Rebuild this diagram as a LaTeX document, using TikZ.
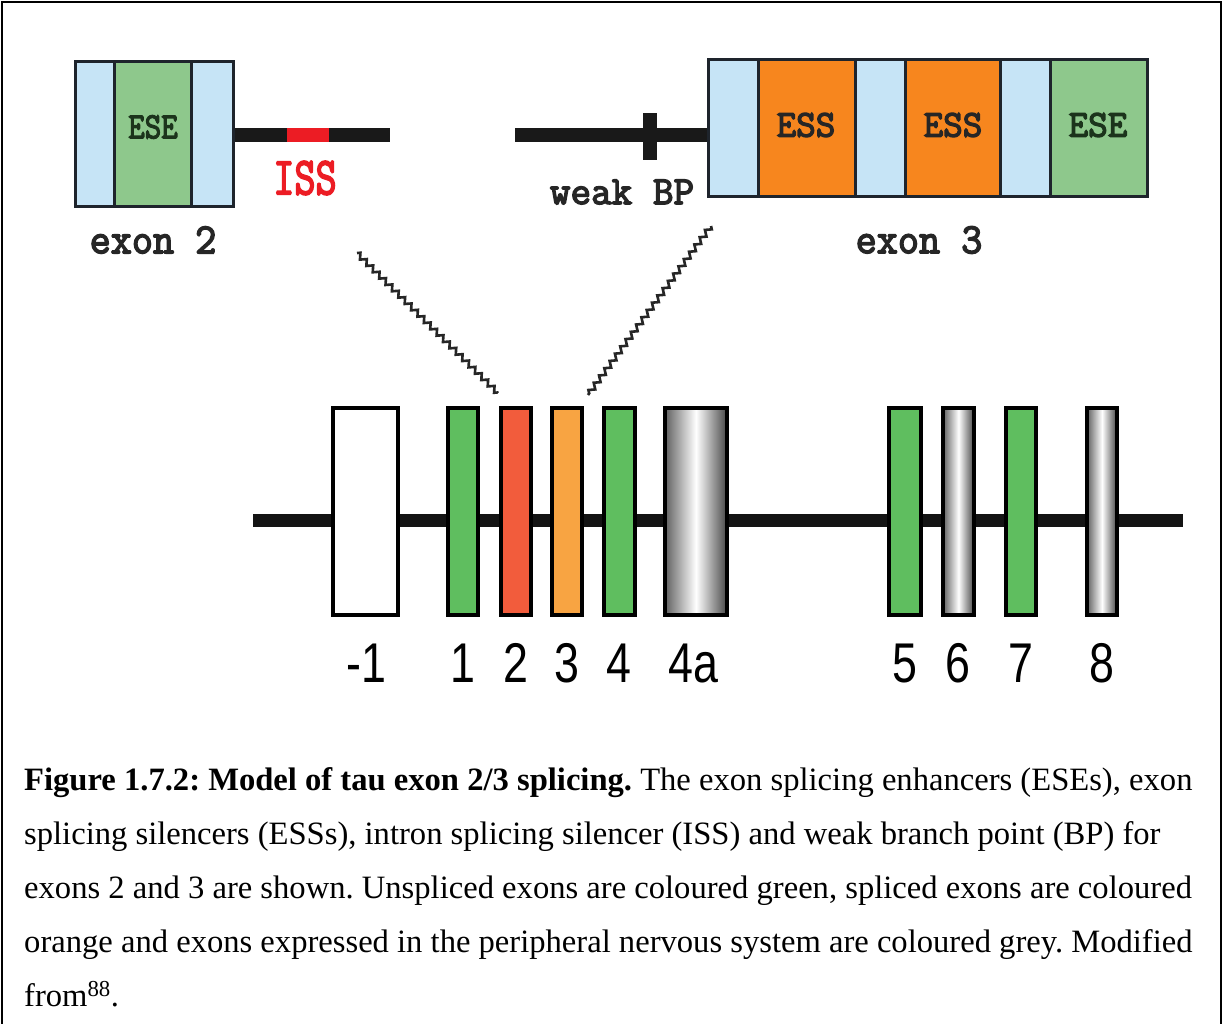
\documentclass[tikz,border=0pt]{standalone}
\usepackage{fontspec}
\usepackage{graphicx}
\setmainfont{Liberation Serif}
\newfontfamily\monof{Latin Modern Mono}[FakeBold=3.5]
\newfontfamily\sansf{Liberation Sans}
\usetikzlibrary{decorations.pathmorphing}
\definecolor{lblue}{RGB}{198,228,246}
\definecolor{tgreen}{RGB}{142,200,140}
\definecolor{torange}{RGB}{247,134,30}
\definecolor{issred}{RGB}{236,28,36}
\definecolor{edge}{RGB}{30,36,44}
\definecolor{lgreen}{RGB}{95,190,95}
\definecolor{lred}{RGB}{242,92,60}
\definecolor{lorange}{RGB}{248,164,66}
\definecolor{esetext}{RGB}{28,52,28}
\frenchspacing
\begin{document}
\begin{tikzpicture}[x=1pt,y=-1pt,
  seg/.style={draw=edge, line width=3, inner sep=0, outer sep=0},
  topex2/.style={seg, minimum height=145},
  topex3/.style={seg, minimum height=137},
  intron/.style={line width=14, draw=black!90},
  lowexon/.style={draw=black, line width=3.5, inner sep=0, outer sep=0, minimum height=207},
  greyexon/.style={lowexon, left color=black!62, right color=black!72, middle color=white},
  mono/.style={inner sep=0},
  numlab/.style={inner sep=0, anchor=base, font=\sansf\fontsize{56}{56}\selectfont},
  captext/.style={inner sep=0, anchor=base west, font=\fontsize{32.6}{38}\selectfont},
  zz/.style={line width=2.6, draw=black!85, decorate,
    decoration={zigzag, segment length=9, amplitude=2.6}}
]
\useasboundingbox (0,0) rectangle (1223,1024);
\clip (0,0) rectangle (1223,1024);
\fill[white] (0,0) rectangle (1223,1024);
% frame
\draw[line width=2.2] (2,2) rectangle (1221,1060);

% ---------- exon 2 (top left) ----------
\coordinate (i2s) at (233,135);
\coordinate (i2e) at (390,135);
\coordinate (issL) at (287,135);
\coordinate (issR) at (329,135);
\draw[intron] (i2s) -- (i2e);
\draw[line width=14, issred] (issL) -- (issR);
\node[topex2, fill=lblue, minimum width=39] (x2a) at (94.5,134.5) {};
\node[topex2, fill=tgreen, minimum width=77] (x2b) at (152.5,134.5) {};
\node[topex2, fill=lblue, minimum width=42] (x2c) at (212,134.5) {};
\node[mono, text=esetext, font=\monof\fontsize{32}{32}\selectfont] (ese2) at (153,127) {\scalebox{1}[1.15]{ESE}};
\node[mono, text=issred, font=\monof\fontsize{41}{41}\selectfont] (iss) at (305,178) {\scalebox{1}[1.3]{ISS}};
\node[mono, text=black!85, font=\monof\fontsize{41}{41}\selectfont] (lab2) at (153,240) {\scalebox{1}[1.05]{exon 2}};

% ---------- exon 3 (top right) ----------
\coordinate (i3s) at (515,135);
\coordinate (i3e) at (708,135);
\draw[intron] (i3s) -- (i3e);
\node[fill=black!90, inner sep=0, minimum width=14, minimum height=47] (bp) at (650,136.5) {};
\node[topex3, fill=lblue, minimum width=50] (x3a) at (733,128.5) {};
\node[topex3, fill=torange, minimum width=97] (x3b) at (806.5,128.5) {};
\node[topex3, fill=lblue, minimum width=50] (x3c) at (880,128.5) {};
\node[topex3, fill=torange, minimum width=95] (x3d) at (952.5,128.5) {};
\node[topex3, fill=lblue, minimum width=50] (x3e) at (1025,128.5) {};
\node[topex3, fill=tgreen, minimum width=97] (x3f) at (1098.5,128.5) {};
\node[mono, text=black!85, font=\monof\fontsize{38}{38}\selectfont] (ess1) at (806,125) {ESS};
\node[mono, text=black!85, font=\monof\fontsize{38}{38}\selectfont] (ess2) at (953,125) {ESS};
\node[mono, text=esetext, font=\monof\fontsize{38}{38}\selectfont] (ese3) at (1098,125) {ESE};
\node[mono, text=black!85, font=\monof\fontsize{40}{40}\selectfont] (wbp) at (622,192) {weak BP};
\node[mono, text=black!85, font=\monof\fontsize{41}{41}\selectfont] (lab3) at (919,240) {\scalebox{1}[1.05]{exon 3}};

% ---------- gene (bottom) ----------
\coordinate (bbL) at (253,520);
\coordinate (bbR) at (1183,520);
\draw[line width=13, black!92] (bbL) -- (bbR);
\node[lowexon, fill=white, minimum width=65] (em1) at (365.5,511.5) {};
\node[lowexon, fill=lgreen, minimum width=30] (e1) at (463,511.5) {};
\node[lowexon, fill=lred, minimum width=30] (e2) at (516,511.5) {};
\node[lowexon, fill=lorange, minimum width=30] (e3) at (567,511.5) {};
\node[lowexon, fill=lgreen, minimum width=31] (e4) at (619.5,511.5) {};
\node[greyexon, minimum width=62] (e4a) at (696,511.5) {};
\node[lowexon, fill=lgreen, minimum width=32] (e5) at (905,511.5) {};
\node[greyexon, minimum width=31] (e6) at (958.5,511.5) {};
\node[lowexon, fill=lgreen, minimum width=30] (e7) at (1021,511.5) {};
\node[greyexon, minimum width=30] (e8) at (1102,511.5) {};

\node[numlab] (n-1) at (366,682) {\scalebox{0.8}[1]{-1}};
\node[numlab] (n1) at (463,682) {\scalebox{0.8}[1]{1}};
\node[numlab] (n2) at (516,682) {\scalebox{0.8}[1]{2}};
\node[numlab] (n3) at (567,682) {\scalebox{0.8}[1]{3}};
\node[numlab] (n4) at (619,682) {\scalebox{0.8}[1]{4}};
\node[numlab] (n4a) at (693,682) {\scalebox{0.8}[1]{4a}};
\node[numlab] (n5) at (905,682) {\scalebox{0.8}[1]{5}};
\node[numlab] (n6) at (958,682) {\scalebox{0.8}[1]{6}};
\node[numlab] (n7) at (1021,682) {\scalebox{0.8}[1]{7}};
\node[numlab] (n8) at (1102,682) {\scalebox{0.8}[1]{8}};

% ---------- zigzag connectors ----------
\coordinate (zlt) at (357,253);
\coordinate (zlb) at (498,393);
\coordinate (zrt) at (711,226);
\coordinate (zrb) at (588,395);
\draw[zz] (zlt) -- (zlb);
\draw[zz] (zrt) -- (zrb);

% ---------- caption ----------
\node[captext] (c1) at (24,790) {\textbf{Figure 1.7.2: Model of tau exon 2/3 splicing.} The exon splicing enhancers (ESEs), exon};
\node[captext] (c2) at (24,844) {splicing silencers (ESSs), intron splicing silencer (ISS) and weak branch point (BP) for};
\node[captext] (c3) at (24,898) {exons 2 and 3 are shown. Unspliced exons are coloured green, spliced exons are coloured};
\node[captext] (c4) at (24,952) {orange and exons expressed in the peripheral nervous system are coloured grey. Modified};
\node[captext] (c5) at (24,1006) {from\textsuperscript{88}.};
\end{tikzpicture}
\end{document}
